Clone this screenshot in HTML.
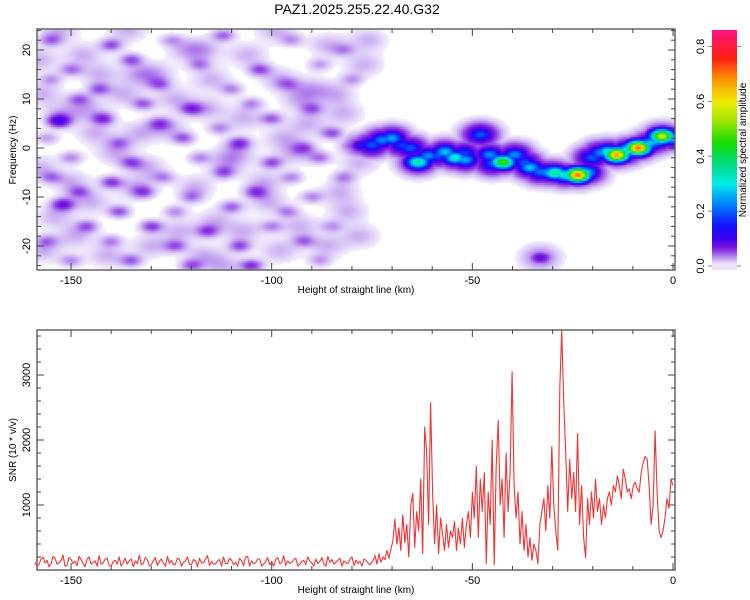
<!DOCTYPE html>
<html><head><meta charset="utf-8">
<style>
html,body{margin:0;padding:0;background:#fff;}
#wrap{position:relative;width:750px;height:600px;overflow:hidden;font-family:"Liberation Sans",sans-serif;}
canvas{position:absolute;}
svg{position:absolute;left:0;top:0;}
</style></head>
<body>
<div id="wrap">
<canvas id="heat" width="638" height="241" style="left:37px;top:29px"></canvas>
<canvas id="cbar" width="25" height="240" style="left:712px;top:30px"></canvas>
<svg id="svg" width="750" height="600"></svg>
</div>
<script>
// ---------- data ----------
const noiseKm=[-155,-140,-125,-112,-95,-82,-150,-135,-118,-103,-88,-155,-143,-128,-110,-96,-80,-148,-132,-120,-105,-90,-153,-142,-128,-113,-100,-85,-156,-138,-122,-108,-92,-80,-150,-135,-118,-100,-88,-155,-140,-127,-112,-95,-82,-148,-132,-120,-104,-90,-152,-138,-124,-110,-96,-146,-130,-116,-100,-85,-156,-140,-124,-108,-92,-150,-135,-120,-105,-88];
const noiseHz=[22,21,22,23,22,20,16,18,17,16,17,14,12,13,12,13,14,10,9,8,9,8,5.5,6,5,4,6,3,2,1,2,1,0,0.5,-2,-3,-2,-3,-2,-6,-7,-6,-5,-6,-6,-9,-9,-10,-9,-10,-11.5,-13,-13,-12,-13,-16,-16,-17,-16,-16,-19,-19,-20,-20,-19,-23,-23,-24,-24,-23];
const noiseAmp=[0.04,0.05,0.03,0.045,0.03,0.03,0.04,0.05,0.035,0.05,0.03,0.03,0.045,0.04,0.035,0.03,0.03,0.04,0.045,0.055,0.035,0.04,0.085,0.06,0.045,0.035,0.045,0.05,0.03,0.035,0.045,0.055,0.04,0.05,0.035,0.045,0.035,0.05,0.04,0.035,0.055,0.035,0.045,0.035,0.035,0.04,0.045,0.035,0.05,0.035,0.07,0.05,0.035,0.045,0.035,0.045,0.055,0.05,0.035,0.03,0.035,0.035,0.045,0.05,0.04,0.035,0.045,0.045,0.06,0.03];
const lightKm=[-158,-147,-136,-129,-117,-106,-98,-86,-77,-157,-146,-133,-124,-115,-107,-93,-84,-76,-152,-144,-137,-126,-116,-109,-97,-91,-78,-158,-150,-139,-131,-119,-111,-102,-94,-83,-154,-145,-134,-123,-114,-101,-93,-81,-157,-149,-141,-130,-117,-107,-98,-86,-78,-153,-143,-133,-121,-112,-99,-90,-82];
const lightHz=[18,19,24,15,20,19,14,21,17,11,8,15,10,14,6,10,11,22,7,3,11,4,8,-1,2,5,-3,-4,-7,-1,-4,-8,-3,-7,-1,-9,-14,-11,-8,-17,-15,-11,-16,-13,-21,-18,-22,-20,-22,-17,-21,-20,-18,24,15,3,20,-24,24,12,7];
const ridgeKm=[-77.5,-75,-72.5,-70,-67.5,-65.5,-63.5,-61,-58.5,-56.8,-54.3,-51.8,-48,-45.6,-42.4,-39.4,-37,-35.6,-33,-31,-29.4,-26.9,-23.7,-21.5,-20.2,-18,-16.2,-14,-12,-11.2,-8.7,-5.7,-4,-2.7,-0.2,-33,-45,-52];
const ridgeHz=[0.5,0.6,1.6,2,0.5,0,-2.9,-1.6,-1.5,-0.8,-2,-2.4,2.7,-1.4,-2.9,-1.4,-3,-4,-4.9,-5,-5.1,-5.5,-5.5,-5,-2,-1,-0.8,-1.4,-1,-0.4,0,1,1.5,2.4,2,-22.4,-3.2,-1];
const ridgeAmp=[0.12,0.2,0.24,0.26,0.18,0.2,0.36,0.24,0.2,0.28,0.33,0.26,0.2,0.24,0.48,0.24,0.2,0.28,0.22,0.26,0.38,0.33,0.72,0.28,0.2,0.24,0.33,0.68,0.28,0.33,0.72,0.28,0.28,0.58,0.28,0.08,0.2,0.18];
const snrLeft=[120,80,200,150,90,180,110,230,70,160,130,210,100,170,90,140,220,110,180,60,150,200,120,90,170,140,230,100,160,80,190,130,110,210,150,90,170,120,200,80,140,180,110,220,130,90,160,200,100,150,120,180,70,210,140,110,170,90,190,130,160,100,220,140,120,180,90,150,200,110,170,130,90,210,160,120,180,140,100,200,150,130,170,110,220];
const snrLeftHalf=[60,170,110,50,210,90,140,60,190,100,70,160,50,200,120,60,90,170,70,130,90,60,180,140,50,100,80,190,60,140,70,170,60,100,80,180,60,140,90,160,50,110,170,70,90,140,60,100,180,80,60,140,200,60,100,170,60,130,80,60,190,110,70,100,160,60,130,80,140,60,100,190,60,120,90,150,60,110,170,70,100,60,150,80,130];
const snrRight=[150,220,90,250,120,200,160,300,180,320,450,780,400,650,300,850,420,700,200,1000,1180,350,900,600,1400,250,2200,1800,700,2570,1200,400,1000,250,800,550,300,700,350,600,500,750,300,650,400,800,350,700,900,500,1200,800,1600,500,1400,900,1500,100,1200,700,2000,80,1600,2300,1000,1400,500,1800,900,1500,3050,1300,800,1200,400,900,300,700,200,500,150,400,300,100,700,900,1100,600,1300,800,1900,1000,600,300,2800,3690,2600,1800,900,1700,1100,1500,900,2100,700,1300,500,190,1100,700,1200,800,1400,900,1100,700,1000,800,1100,1200,1000,1300,1200,1450,1300,1100,1550,1400,1200,1250,1100,1300,1350,1250,1200,1500,1650,1750,1700,1300,700,1000,2140,1200,600,500,600,800,1100,950,1400,1300];
const xTicks=[-150,-100,-50,0];
const fTicks=[-20,-10,0,10,20];
const snrTicks=[1000,2000,3000];
const cbTicks=[0.0,0.2,0.4,0.6,0.8];

// ---------- axes ----------
const X0=37,X1=675;
const xs=km=>673+km*4.013;
const fy=f=>148-f*4.9;
const sy=v=>570-v*0.065;
function cyv(v){return 266-v*(236/0.86);}

const stops=[[0,255,255,255],[0.008,240,232,252],[0.02,215,195,245],[0.035,185,140,238],[0.05,150,80,230],[0.07,120,20,225],[0.1,60,0,240],[0.15,20,20,255],[0.22,0,120,255],[0.3,0,235,235],[0.38,0,220,120],[0.45,20,220,0],[0.53,160,230,0],[0.6,240,235,0],[0.68,255,150,0],[0.76,255,30,20],[0.86,255,20,130]];
function cmap(v){
  if(v<=0.006)return [255,255,255];
  for(let i=1;i<stops.length;i++){
    if(v<=stops[i][0]){const a=stops[i-1],b=stops[i];const t=(v-a[0])/(b[0]-a[0]);
      return [a[1]+(b[1]-a[1])*t,a[2]+(b[2]-a[2])*t,a[3]+(b[3]-a[3])*t];}
  }
  const l=stops[stops.length-1];return [l[1],l[2],l[3]];
}

// ---------- heatmap ----------
(function(){
  const c=document.getElementById('heat'),ctx=c.getContext('2d');
  const W=c.width,H=c.height,img=ctx.createImageData(W,H);
  const cell=2;
  for(let py=0;py<H;py+=cell){
    for(let px=0;px<W;px+=cell){
      const gx=X0+px+1,gy=29+py+1;
      const km=(gx-673)/4.013,f=(148-gy)/4.9;
      let v=0;
      for(let i=0;i<noiseKm.length;i++){
        const dx=(km-noiseKm[i])/2.0,df=(f-noiseHz[i])/0.9;
        const d=dx*dx+df*df; if(d<12) v+=noiseAmp[i]*Math.exp(-d/2);
      }
      for(let i=0;i<lightKm.length;i++){
        const dx=(km-lightKm[i])/3.2,df=(f-lightHz[i])/1.6;
        const d=dx*dx+df*df; if(d<12) v+=0.025*Math.exp(-d/2);
      }
      let r=0,h=0;
      for(let i=0;i<ridgeKm.length;i++){
        const dx=(km-ridgeKm[i])/2.1,df=(f-ridgeHz[i])/1.0;
        const d=dx*dx+df*df; if(d<14) r=Math.max(r,ridgeAmp[i]*Math.exp(-d/2));
        const dx2=(km-ridgeKm[i])/3.2,df2=(f-ridgeHz[i])/1.7;
        const d2=dx2*dx2+df2*df2; if(d2<14) h=Math.max(h,0.12*Math.min(1,ridgeAmp[i]/0.2)*Math.exp(-d2/2));
      }
      v=Math.max(v,r,h);
      const col=cmap(v);
      for(let yy=0;yy<cell&&py+yy<H;yy++)for(let xx=0;xx<cell&&px+xx<W;xx++){
        const k=((py+yy)*W+px+xx)*4;img.data[k]=col[0];img.data[k+1]=col[1];img.data[k+2]=col[2];img.data[k+3]=255;}
    }
  }
  ctx.putImageData(img,0,0);
  const cb=document.getElementById('cbar'),cx=cb.getContext('2d');
  for(let y=0;y<240;y++){const v=(266-(30+y))*0.86/236;const col=cmap(Math.max(v,0.01));
    cx.fillStyle=`rgb(${col[0]|0},${col[1]|0},${col[2]|0})`;cx.fillRect(0,y,25,1);}
})();

// ---------- svg ----------
const svg=document.getElementById('svg'),NS='http://www.w3.org/2000/svg';
function el(tag,attrs,parent){const e=document.createElementNS(NS,tag);for(const k in attrs)e.setAttribute(k,attrs[k]);(parent||svg).appendChild(e);return e;}
function txt(s,attrs){const t=el('text',attrs);t.textContent=s;return t;}

let t=txt('PAZ1.2025.255.22.40.G32',{x:357,y:14,'font-size':14,'text-anchor':'middle',fill:'#000'});



function frame(top,bot,name){
  const r=el('rect',{x:X0,y:top,width:X1-X0,height:bot-top,fill:'none',stroke:'#666','stroke-width':1.5});
  
  
  for(let km=-150;km<=0;km+=10){const x=xs(km),L=(km%50===0)?7:4;
    el('line',{x1:x,x2:x,y1:bot,y2:bot-L,stroke:'#444'});el('line',{x1:x,x2:x,y1:top,y2:top+L,stroke:'#444'});}
  xTicks.forEach(k=>{const l=txt(String(k),{x:xs(k),y:bot+14,'font-size':11,'text-anchor':'middle'});
    
    });
  const a=txt('Height of straight line (km)',{x:356,y:bot+23,'font-size':10,'text-anchor':'middle'});
  
  
}
frame(29,270,'spectrogram-frame');
frame(330,570,'snr-frame');

for(let f=-24;f<=24;f+=2){const y=fy(f),L=(f%10===0)?7:4;
  el('line',{x1:X0,x2:X0+L,y1:y,y2:y,stroke:'#444'});el('line',{x1:X1,x2:X1-L,y1:y,y2:y,stroke:'#444'});}
fTicks.forEach(f=>{const l=txt(String(f),{x:0,y:0,'font-size':11,'text-anchor':'middle',transform:`translate(30,${fy(f)}) rotate(-90)`});
  
  });
t=txt('Frequency (Hz)',{x:0,y:0,'font-size':10,'text-anchor':'middle',transform:'translate(16,150) rotate(-90)'});



cbTicks.forEach(v=>{const y=cyv(v);
  el('line',{x1:712,x2:708,y1:y,y2:y,stroke:'#888'});el('line',{x1:737,x2:741,y1:y,y2:y,stroke:'#888'});
  const l=txt(v.toFixed(1),{x:0,y:0,'font-size':11,'text-anchor':'middle',transform:`translate(704,${y}) rotate(-90)`});
  
  });
t=txt('Normalized spectral amplitude',{x:0,y:0,'font-size':10,'text-anchor':'middle',transform:'translate(746,150) rotate(-90)'});



for(let v=200;v<=3600;v+=200){const y=sy(v),L=(v%1000===0)?7:4;
  el('line',{x1:X0,x2:X0+L,y1:y,y2:y,stroke:'#444'});el('line',{x1:X1,x2:X1-L,y1:y,y2:y,stroke:'#444'});}
snrTicks.forEach(v=>{const l=txt(String(v),{x:0,y:0,'font-size':11,'text-anchor':'middle',transform:`translate(30,${sy(v)}) rotate(-90)`});
  
  });
t=txt('SNR (10 * v/v)',{x:0,y:0,'font-size':10,'text-anchor':'middle',transform:'translate(16,450) rotate(-90)'});



const pts=[];
snrLeft.forEach((v,i)=>{const km=-159+i*1.0;if(km<-75){pts.push([xs(km),sy(v)]);
  if(i<snrLeftHalf.length&&km+0.5<-75)pts.push([xs(km+0.5),sy(snrLeftHalf[i])]);}});
snrRight.forEach((v,i)=>{const km=-74.75+i*0.495;if(km<=0.3)pts.push([xs(km),sy(v)]);});
const line=el('polyline',{points:pts.map(p=>p[0].toFixed(1)+','+p[1].toFixed(1)).join(' '),fill:'none',stroke:'#ee3333','stroke-width':1.1,'stroke-linejoin':'round'});


</script>
</body></html>
